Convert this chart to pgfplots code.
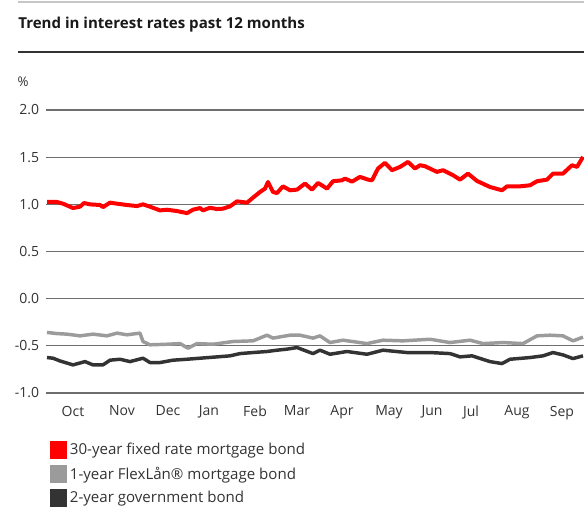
\documentclass[border=0pt]{standalone}
\usepackage{fontspec}
\setmainfont{Open Sans}
\usepackage{pgfplots}
\pgfplotsset{compat=1.18}
\definecolor{cred}{HTML}{FF0000}
\definecolor{cgray}{HTML}{9B9B9B}
\definecolor{cdark}{HTML}{333333}
\definecolor{cgrid}{HTML}{6E6E6E}
\begin{document}
\begin{tikzpicture}
\useasboundingbox (0pt,0pt) rectangle (438pt,-384pt);
% top rules
\draw[color=black!22, line width=1.1pt] (13.5pt,-1.5pt) -- (438pt,-1.5pt);
\draw[color=cdark, line width=1.5pt] (13.5pt,-39pt) -- (438pt,-39pt);
\node[anchor=base west, inner sep=0pt, font=\bfseries\fontsize{11.3}{13}\selectfont, text=black!90] at (13.5pt,-21pt) {Trend in interest rates past 12 months};
\node[anchor=base west, inner sep=0pt, font=\fontsize{10}{12}\selectfont, text=cdark] at (13pt,-65pt) {\%};
\begin{axis}[
  at={(34.5pt,-294.75pt)}, anchor=south west,
  scale only axis, width=403.5pt, height=212.25pt,
  xmin=46, xmax=584, ymin=-1, ymax=2,
  clip=false,
  axis line style={draw=none},
  major tick length=0pt,
  ymajorgrids, grid style={color=cgrid, line width=0.9pt},
  ytick={-1,-0.5,0,0.5,1,1.5,2},
  yticklabels={-1.0,-0.5,0.0,0.5,1.0,1.5,2.0},
  yticklabel style={anchor=east, inner sep=0pt, xshift=-5pt, font=\fontsize{10.5}{12}\selectfont, text=cdark},
  xtick={73,122,168,209,255,297,342,389,432,471,517,562},
  xticklabels={Oct,Nov,Dec,Jan,Feb,Mar,Apr,May,Jun,Jul,Aug,Sep},
  xticklabel style={anchor=north, inner sep=0pt, yshift=-9.5pt, font=\fontsize{10.5}{12}\selectfont, text=cdark},
  legend style={at={(0,0)}, anchor=north west, xshift=3pt, yshift=-35.5pt, draw=none, fill=none,
    font=\fontsize{11.3}{12}\selectfont, text=cdark, inner sep=0pt, row sep=3.6pt,
    legend cell align=left},
  legend image code/.code={\fill[#1, draw=none] (0pt,-6.5pt) rectangle (12.75pt,6.5pt);},
]
\addplot[color=cred, line width=3pt, line join=round] coordinates {
(47,1.025)(57,1.025)(63,1.007)(73,0.961)(80,0.975)(84,1.014)(90,1.000)(100,0.993)(103,0.971)(110,1.018)
(117,1.007)(127,0.993)(137,0.982)(143,1.000)(150,0.975)(160,0.936)(167,0.943)(177,0.929)(187,0.907)(193,0.943)
(200,0.961)(203,0.936)(210,0.964)(217,0.950)(223,0.954)(230,0.979)(237,1.032)(247,1.018)(253,1.071)(260,1.131)
(265,1.167)(268,1.237)(273,1.131)(277,1.120)(283,1.191)(290,1.149)(297,1.156)(305,1.220)(312,1.156)(318,1.227)
(327,1.167)(333,1.245)(342,1.255)(345,1.273)(352,1.241)(360,1.291)(368,1.262)(372,1.255)(378,1.380)(385,1.440)
(392,1.362)(400,1.397)(408,1.450)(415,1.380)(420,1.415)(425,1.404)(437,1.344)(443,1.362)(453,1.309)(460,1.262)
(468,1.326)(477,1.248)(490,1.184)(502,1.149)(507,1.191)(520,1.191)(530,1.202)(537,1.245)(547,1.262)(553,1.326)
(563,1.326)(572,1.415)(577,1.397)(583,1.503)};
\addlegendentry{30-year fixed rate mortgage bond}
\addplot[color=cgray, line width=2.6pt, line join=round] coordinates {
(47,-0.358)(57,-0.370)(67,-0.376)(80,-0.394)(93,-0.376)(107,-0.394)(117,-0.365)(127,-0.383)(140,-0.365)(143,-0.454)
(150,-0.489)(167,-0.483)(180,-0.476)(188,-0.525)(197,-0.476)(213,-0.483)(233,-0.454)(253,-0.447)(267,-0.387)(273,-0.418)
(290,-0.387)(300,-0.387)(313,-0.418)(320,-0.394)(330,-0.465)(343,-0.440)(367,-0.476)(383,-0.440)(403,-0.447)(430,-0.430)
(450,-0.465)(470,-0.440)(483,-0.476)(503,-0.465)(523,-0.476)(537,-0.394)(550,-0.387)(563,-0.394)(573,-0.447)(583,-0.408)};
\addlegendentry{1-year FlexLån® mortgage bond}
\addplot[color=cdark, line width=2.6pt, line join=round] coordinates {
(47,-0.624)(53,-0.631)(60,-0.660)(73,-0.702)(85,-0.667)(93,-0.702)(103,-0.702)(110,-0.652)(120,-0.642)(130,-0.667)
(143,-0.631)(150,-0.677)(160,-0.677)(173,-0.652)(187,-0.642)(200,-0.631)(217,-0.617)(230,-0.606)(240,-0.582)(253,-0.571)
(267,-0.560)(277,-0.546)(287,-0.535)(297,-0.518)(313,-0.582)(320,-0.546)(330,-0.589)(347,-0.560)(367,-0.589)(383,-0.546)
(407,-0.571)(430,-0.571)(450,-0.582)(460,-0.617)(472,-0.606)(490,-0.667)(502,-0.688)(510,-0.642)(530,-0.624)(543,-0.606)
(553,-0.571)(563,-0.596)(573,-0.635)(583,-0.606)};
\addlegendentry{2-year government bond}
\end{axis}
\end{tikzpicture}
\end{document}
